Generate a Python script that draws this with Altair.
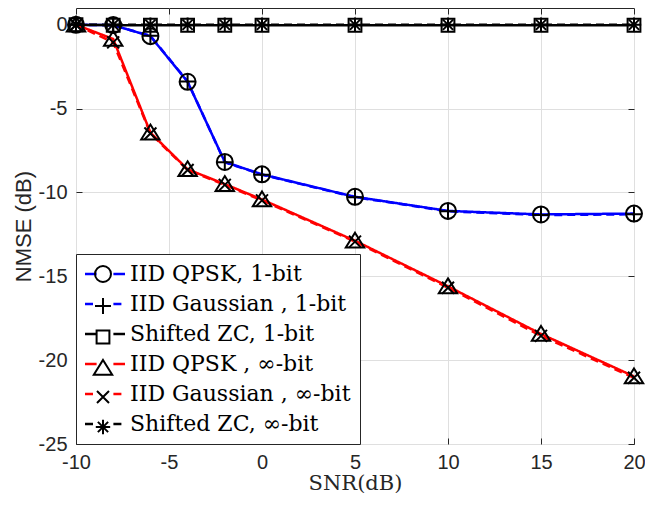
import altair as alt
import pandas as pd

# ---- data ----
snr = [-10, -8, -6, -4, -2, 0, 5, 10, 15, 20]
qpsk_1bit = [0.0, -0.02, -0.68, -3.40, -8.18, -8.92, -10.26, -11.10, -11.31, -11.26]
gauss_1bit = [0.0, -0.03, -0.66, -3.38, -8.20, -8.94, -10.28, -11.12, -11.35, -11.30]
zc_1bit = [0.0, -0.03, -0.03, -0.03, -0.03, -0.03, -0.03, -0.03, -0.03, -0.03]
qpsk_inf = [0.0, -0.85, -6.43, -8.62, -9.50, -10.42, -12.88, -15.60, -18.44, -20.97]
gauss_inf = [0.0, -1.05, -6.48, -8.66, -9.55, -10.47, -12.93, -15.68, -18.55, -21.05]
zc_inf = [0.0, 0.0, 0.0, 0.0, 0.0, 0.0, 0.0, 0.0, 0.0, 0.0]

series_names = [
    "IID QPSK, 1-bit",
    "IID Gaussian , 1-bit",
    "Shifted ZC, 1-bit",
    "IID QPSK , \u221e-bit",
    "IID Gaussian , \u221e-bit",
    "Shifted ZC, \u221e-bit",
]
series_values = [qpsk_1bit, gauss_1bit, zc_1bit, qpsk_inf, gauss_inf, zc_inf]
marker_ids = ["m0", "m1", "m2", "m3", "m4", "m5"]

line_colors = ["#0000ff", "#0000ff", "#000000", "#ff0000", "#ff0000", "#000000"]
line_dashes = [[1, 0], [8, 5], [1, 0], [1, 0], [8, 5], [8, 5]]
marker_shapes = [
    "circle",
    "M-1,0H1M0,-1V1",
    "M-0.8,-0.8H0.8V0.8H-0.8Z",
    "M0,-1L1.15,0.85L-1.15,0.85Z",
    "M-0.75,-0.75L0.75,0.75M-0.75,0.75L0.75,-0.75",
    "M-0.9,0H0.9M0,-0.9V0.9M-0.64,-0.64L0.64,0.64M-0.64,0.64L0.64,-0.64",
]

x_ticks = [-10, -5, 0, 5, 10, 15, 20]
y_ticks = [0, -5, -10, -15, -20, -25]

rows = []
for k, (name, vals) in enumerate(zip(series_names, series_values)):
    for xv, yv in zip(snr, vals):
        rows.append({"snr": xv, "nmse": yv, "series": name, "marker": marker_ids[k], "k": k})
df = pd.DataFrame(rows)

# the whole svg is kept inside the window minus the page margins
W, H = 558, 436
INK = "#262626"
xs = alt.Scale(domain=[-10, 20], nice=False, zero=False, padding=0)
ys = alt.Scale(domain=[-25, 1], nice=False, zero=False, padding=0)


def tick_axis(orient, offset, values):
    return alt.Axis(orient=orient, offset=offset, values=values, labels=False,
                    domain=False, grid=False, ticks=True, tickSize=6,
                    tickColor=INK, tickWidth=1, title="")


LEG_H = 190
LEG_Y = H - LEG_H
leg_lines = alt.Legend(
    title=None, orient="none", legendX=0, legendY=LEG_Y,
    symbolType="M-5,0H-2.1M2.1,0H5", symbolSize=64, symbolStrokeWidth=2.5,
    symbolOffset=9, labelOffset=14,
    labelFont="DejaVu Serif", labelFontSize=22, labelColor="black", labelLimit=400,
    padding=9, rowPadding=8, strokeColor=INK, fillColor="white", zindex=0,
)
leg_marks = alt.Legend(
    title=None, orient="none", legendX=8, legendY=LEG_Y + 1,
    symbolSize=256, symbolStrokeColor="black", symbolFillColor="transparent",
    symbolStrokeWidth=2, labelExpr="''", labelFontSize=20,
    padding=9, rowPadding=8, zindex=2,
)

lines = alt.Chart(df).mark_line(strokeWidth=2.5).encode(
    x=alt.X("snr:Q", scale=xs, axis=alt.Axis(
        values=x_ticks, grid=True, gridColor="#dfdfdf", gridWidth=1,
        ticks=False, domain=False, labelFont="Liberation Sans", labelFontSize=20,
        labelColor=INK, labelPadding=8, labelFlush=False, labelExpr="'' + datum.value",
        title="SNR(dB)", titleFont="DejaVu Serif", titleFontSize=21,
        titleFontWeight="normal", titleColor=INK, titleBaseline="middle", titleY=39)),
    y=alt.Y("nmse:Q", scale=ys, axis=alt.Axis(
        values=y_ticks, grid=True, gridColor="#dfdfdf", gridWidth=1,
        ticks=False, domain=False, labelFont="Liberation Sans", labelFontSize=20,
        labelColor=INK, labelPadding=9, labelFlush=False, labelExpr="'' + datum.value",
        title="NMSE (dB)", titleFont="Liberation Sans", titleFontSize=22,
        titleFontWeight="normal", titleColor=INK, titleAngle=270,
        titleBaseline="middle", titleAlign="center", titleX=-53, titleY=H / 2)),
    color=alt.Color("series:N", scale=alt.Scale(domain=series_names, range=line_colors), legend=leg_lines),
    strokeDash=alt.StrokeDash("series:N", scale=alt.Scale(domain=series_names, range=line_dashes), legend=leg_lines),
    order="snr:Q",
)

points = alt.Chart(df).mark_point(filled=False, color="black", strokeWidth=2,
                                  size=256, opacity=1).encode(
    x=alt.X("snr:Q", scale=xs, axis=tick_axis("top", -H, x_ticks)),
    y=alt.Y("nmse:Q", scale=ys, axis=tick_axis("right", -W, y_ticks)),
    shape=alt.Shape("marker:N", scale=alt.Scale(domain=marker_ids, range=marker_shapes), legend=leg_marks),
    order="k:Q",
)

ticks3 = alt.Chart(df).mark_point(opacity=0).encode(
    x=alt.X("snr:Q", scale=xs, axis=tick_axis("bottom", -H, x_ticks)),
    y=alt.Y("nmse:Q", scale=ys, axis=tick_axis("left", -W, y_ticks)),
)

chart = (
    alt.layer(lines, points, ticks3)
    .resolve_scale(x="shared", y="shared")
    .resolve_axis(x="independent", y="independent")
    .properties(width=W, height=H, autosize=alt.AutoSizeParams(type="none"),
                padding={"left": 68, "top": 0, "right": 11, "bottom": 49},
                background="white")
    .configure_view(stroke=INK, strokeWidth=1)
)

chart.save("out.html", embed_options={"renderer": "svg", "actions": False})
